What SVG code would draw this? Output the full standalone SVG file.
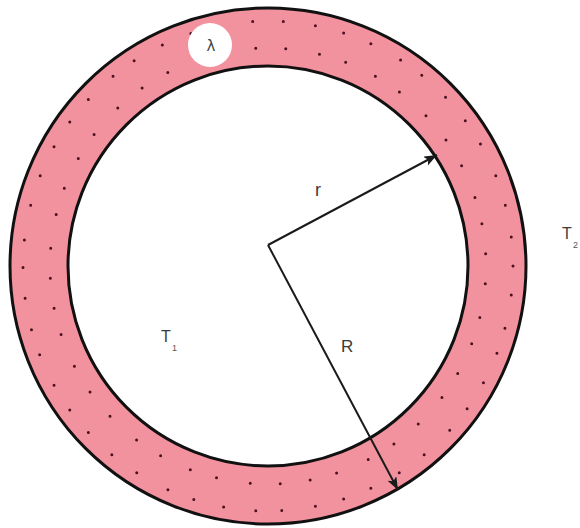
<svg xmlns="http://www.w3.org/2000/svg" width="580" height="528" viewBox="0 0 580 528">
<style>
.lbl{font-family:"Liberation Sans",Arial,sans-serif;fill:#3a3a3a}
.sub{font-family:"Liberation Sans",Arial,sans-serif;fill:#555;font-size:9px}
.edge{stroke:#1a1a1a;stroke-width:2;fill:none}
.dots{fill:none;stroke:#4a1020;stroke-width:3;stroke-linecap:round}
</style>
<defs>
<marker id="ah" markerUnits="userSpaceOnUse" markerWidth="14" markerHeight="12" refX="13" refY="5" orient="auto">
<path d="M0,0 L13,5 L0,10 L3,5 z" fill="#1a1a1a"/>
</marker>
</defs>
<rect width="580" height="528" fill="#fff"/>
<g id="wall">
<circle cx="268" cy="266" r="258" fill="#f3929f" stroke="#111" stroke-width="3"/>
<circle class="dots" cx="268" cy="266" r="245" pathLength="1000" stroke-dasharray="0 19 0 22 0 17 0 21 0 20 0 18 0 23 0 20 0 21 0 19"/>
<circle class="dots" cx="268" cy="266" r="218" pathLength="1000" stroke-dasharray="0 22 0 25 0 20 0 24 0 21 0 26 0 23 0 22 0 25 0 20 0 22" stroke-dashoffset="9"/>
<circle cx="268" cy="266" r="200" fill="#fff" stroke="#111" stroke-width="3"/>
</g>
<g id="lambda">
<circle cx="210" cy="45" r="22" fill="#fff"/>
<text x="211" y="51" text-anchor="middle" font-family="DejaVu Sans,sans-serif" font-size="15" fill="#444">λ</text>
</g>
<g id="connectors">
<line class="edge" x1="268" y1="245" x2="437" y2="155" marker-end="url(#ah)"/>
<line class="edge" x1="268" y1="245" x2="398" y2="490" marker-end="url(#ah)"/>
</g>
<g id="label-r"><text class="lbl" x="315" y="196" font-size="18">r</text></g>
<g id="label-R"><text class="lbl" x="341" y="352" font-size="17">R</text></g>
<g id="label-T1"><text class="lbl" x="161" y="342" font-size="16">T</text><text class="sub" x="172" y="351">1</text></g>
<g id="label-T2"><text class="lbl" x="562" y="239" font-size="16">T</text><text class="sub" x="573" y="248">2</text></g>
</svg>
